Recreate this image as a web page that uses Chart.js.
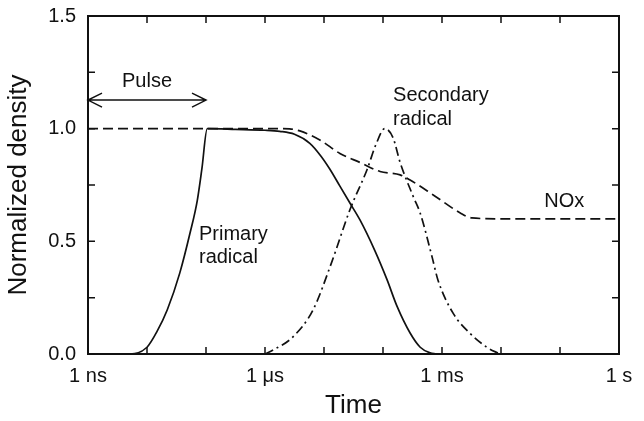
<!DOCTYPE html>
<html>
<head>
<meta charset="utf-8">
<script src="https://cdn.jsdelivr.net/npm/chart.js@4.4.1/dist/chart.umd.min.js"></script>
<style>
  html, body { margin: 0; background: #fff; }
  #wrap { width: 644px; height: 421px; }
</style>
</head>
<body>
<div id="wrap"><canvas id="chart"></canvas></div>
<script>
// time in seconds, density normalised to 1
const primaryTime = [1e-9, 5.1e-9, 1e-8, 1.48e-8, 2.2e-8, 3.6e-8, 5.4e-8, 7.1e-8, 8.5e-8, 1.05e-7,
  3.16e-7, 1e-6, 1.78e-6, 3.16e-6, 5.75e-6, 8.9e-6, 1.26e-5, 1.86e-5, 2.75e-5, 4.07e-5,
  7.24e-5, 1.17e-4, 1.74e-4, 2.88e-4, 4.27e-4, 6.3e-4, 7.9e-4];
const primaryDensity = [0, 0, 0.03, 0.10, 0.195, 0.36, 0.54, 0.68, 0.82, 1.0,
  0.997, 0.993, 0.988, 0.975, 0.935, 0.878, 0.82, 0.745, 0.67, 0.595,
  0.46, 0.33, 0.21, 0.093, 0.03, 0.005, 0];

const secondaryTime = [1e-6, 1.38e-6, 2.95e-6, 6.5e-6, 1.32e-5, 2.75e-5, 5.4e-5, 7.6e-5, 1.07e-4,
  1.48e-4, 1.95e-4, 3.24e-4, 4.27e-4, 6.8e-4, 8.5e-4, 1.55e-3, 2.95e-3, 5.75e-3, 9.5e-3];
const secondaryDensity = [0, 0.018, 0.075, 0.195, 0.40, 0.64, 0.82, 0.93, 1.0,
  0.96, 0.85, 0.70, 0.625, 0.43, 0.33, 0.18, 0.093, 0.03, 0];

const noxTime = [1e-9, 1.6e-6, 2.6e-6, 3.9e-6, 8.5e-6, 1.86e-5, 4.07e-5, 8.9e-5, 1.95e-4, 2.88e-4,
  7.1e-4, 2.04e-3, 3.2e-3, 1e-2, 1];
const noxDensity = [1.0, 1.0, 0.999, 0.99, 0.95, 0.89, 0.85, 0.81, 0.795, 0.772,
  0.706, 0.626, 0.604, 0.6, 0.6];

const decadeTicks = [1e-9, 1e-8, 1e-7, 1e-6, 1e-5, 1e-4, 1e-3, 1e-2, 1e-1, 1];
const timeLabelExp = [-9, -6, -3, 0];
const timeLabelText = ['1 ns', '1 \u03bcs', '1 ms', '1 s'];

// annotation texts: [text, time, density, align]
const notes = [
  ['Pulse', 1e-8, 1.185, 'center'],
  ['Primary', 7.6e-8, 0.506, 'left'],
  ['radical', 7.6e-8, 0.404, 'left'],
  ['Secondary', 1.48e-4, 1.123, 'left'],
  ['radical', 1.48e-4, 1.016, 'left'],
  ['NOx', 5.4e-2, 0.652, 'left']
];
const pulseSpan = [1e-9, 1e-7];
const pulseLevel = 1.127;

const INK = '#111';
const FONT = '"Liberation Sans", Arial, Helvetica, sans-serif';

const toPoints = (t, v) => t.map((x, i) => ({ x, y: v[i] }));

const lineStyle = {
  borderColor: INK,
  borderWidth: 1.7,
  pointRadius: 0,
  fill: false,
  cubicInterpolationMode: 'monotone'
};

// closed frame with inward ticks on all four sides
const framePlugin = {
  id: 'frame',
  afterDraw(chart) {
    const { ctx, chartArea: a, scales: { x, y } } = chart;
    ctx.save();
    ctx.strokeStyle = INK;
    ctx.lineWidth = 2;
    ctx.strokeRect(a.left, a.top, a.right - a.left, a.bottom - a.top);
    ctx.lineWidth = 1.5;
    ctx.beginPath();
    x.ticks.forEach(t => {
      const px = x.getPixelForValue(t.value);
      ctx.moveTo(px, a.bottom); ctx.lineTo(px, a.bottom - 7);
      ctx.moveTo(px, a.top); ctx.lineTo(px, a.top + 7);
    });
    y.ticks.forEach(t => {
      const py = y.getPixelForValue(t.value);
      ctx.moveTo(a.left, py); ctx.lineTo(a.left + 7, py);
      ctx.moveTo(a.right, py); ctx.lineTo(a.right - 7, py);
    });
    ctx.stroke();
    ctx.restore();
  }
};

const notesPlugin = {
  id: 'notes',
  afterDraw(chart) {
    const { ctx, scales: { x, y } } = chart;
    ctx.save();
    ctx.fillStyle = INK;
    ctx.font = '20px ' + FONT;
    ctx.textBaseline = 'alphabetic';
    notes.forEach(([text, t, v, align]) => {
      ctx.textAlign = align;
      ctx.fillText(text, x.getPixelForValue(t), y.getPixelForValue(v));
    });

    // double-headed pulse arrow
    const x0 = x.getPixelForValue(pulseSpan[0]);
    const x1 = x.getPixelForValue(pulseSpan[1]);
    const py = y.getPixelForValue(pulseLevel);
    ctx.strokeStyle = INK;
    ctx.lineWidth = 1.5;
    ctx.beginPath();
    ctx.moveTo(x0, py); ctx.lineTo(x1, py);
    ctx.moveTo(x0 + 14, py - 7); ctx.lineTo(x0, py); ctx.lineTo(x0 + 14, py + 7);
    ctx.moveTo(x1 - 14, py - 7); ctx.lineTo(x1, py); ctx.lineTo(x1 - 14, py + 7);
    ctx.stroke();
    ctx.restore();
  }
};

new Chart(document.getElementById('chart'), {
  type: 'line',
  data: {
    datasets: [
      { label: 'Primary radical', data: toPoints(primaryTime, primaryDensity), ...lineStyle },
      { label: 'Secondary radical', data: toPoints(secondaryTime, secondaryDensity), ...lineStyle,
        borderDash: [9, 4, 2, 4] },
      { label: 'NOx', data: toPoints(noxTime, noxDensity), ...lineStyle, borderDash: [10, 5] }
    ]
  },
  options: {
    responsive: true,
    maintainAspectRatio: false,
    animation: false,
    layout: { padding: { top: 16, right: 25, left: 0, bottom: 0 } },
    plugins: {
      legend: { display: false },
      tooltip: { enabled: false }
    },
    scales: {
      x: {
        type: 'logarithmic',
        min: 1e-9,
        max: 1,
        afterBuildTicks: scale => { scale.ticks = decadeTicks.map(value => ({ value })); },
        afterFit: scale => {
          scale.height = 67;
          scale.paddingLeft = 0;
          scale.paddingRight = 0;
        },
        grid: { display: false, drawTicks: false },
        border: { display: false },
        ticks: {
          autoSkip: false,
          maxRotation: 0,
          padding: 10,
          color: INK,
          font: { family: FONT, size: 20 },
          callback: v => {
            const i = timeLabelExp.indexOf(Math.round(Math.log10(v)));
            return i < 0 ? '' : timeLabelText[i];
          }
        },
        title: {
          display: true,
          text: 'Time',
          color: INK,
          font: { family: FONT, size: 26 },
          padding: { top: 0, bottom: 0 }
        }
      },
      y: {
        min: 0,
        max: 1.5,
        afterFit: scale => {
          scale.width = 88;
          scale.paddingTop = 0;
          scale.paddingBottom = 0;
        },
        grid: { display: false, drawTicks: false },
        border: { display: false },
        ticks: {
          stepSize: 0.25,
          padding: 12,
          color: INK,
          font: { family: FONT, size: 20 },
          callback: v => (Math.abs(v * 2 - Math.round(v * 2)) < 1e-6 ? v.toFixed(1) : '')
        },
        title: {
          display: true,
          text: 'Normalized density',
          color: INK,
          font: { family: FONT, size: 26 },
          padding: { top: 3, bottom: 0 }
        }
      }
    }
  },
  plugins: [framePlugin, notesPlugin]
});
</script>
</body>
</html>
